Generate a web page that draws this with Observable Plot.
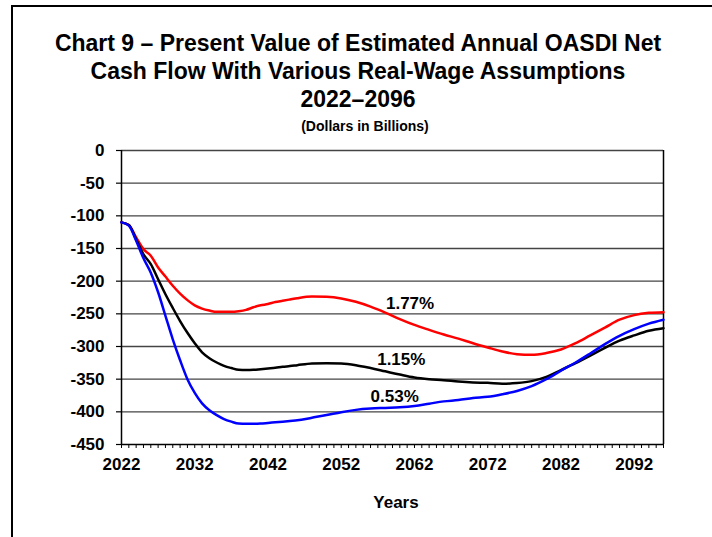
<!DOCTYPE html>
<html>
<head>
<meta charset="utf-8">
<script src="https://cdn.jsdelivr.net/npm/d3@7"></script>
<script src="https://cdn.jsdelivr.net/npm/@observablehq/plot@0.6"></script>
<style>
  html, body { margin: 0; padding: 0; background: #fff; }
  #wrap { position: relative; width: 712px; height: 537px; overflow: hidden; }
  #frame { position: absolute; left: 11px; top: 5px; width: 720px; height: 600px;
           border-left: 2px solid #000; border-top: 2px solid #000; box-sizing: border-box; }
  #chart { position: absolute; left: 0; top: 0; }
</style>
</head>
<body>
<div id="wrap"><div id="frame"></div><div id="chart"></div></div>
<script>
const titleLines = [
  "Chart 9 \u2013 Present Value of Estimated Annual OASDI Net",
  "Cash Flow With Various Real-Wage Assumptions",
  "2022\u20132096"
];
const subtitle = "(Dollars in Billions)";
const xAxisTitle = "Years";

const years = [
  2022, 2023, 2024, 2025, 2026, 2027, 2028, 2029, 2030, 2031, 2032, 2033, 2034,
  2035, 2036, 2037, 2038, 2039, 2040, 2041, 2042, 2043, 2044, 2045, 2046,
  2048, 2050, 2052, 2054, 2056, 2058, 2060, 2062, 2064, 2066, 2068, 2070,
  2072, 2074, 2076, 2078, 2080, 2082, 2084, 2086, 2088, 2090, 2092, 2094, 2096
];
const wage177 = [
  -110, -114, -133, -151, -161, -179, -193, -207, -219, -229, -237, -242, -245,
  -247, -247, -247, -246, -244, -240, -237, -235, -232, -230, -228, -226,
  -223.5, -224, -226.5, -231.6, -239, -248, -258, -267, -274.5, -281.6, -288, -295,
  -301.5, -307.7, -311.7, -312.8, -310, -304.6, -295, -283, -271, -259, -252, -248.5, -247.4
];
const wage115 = [
  -110, -114, -136, -159, -174, -197, -220, -241, -261, -279, -295, -309, -318,
  -324.5, -329.6, -333, -335.7, -336, -335.7, -334.7, -333.7, -332.7, -331, -330, -328.6,
  -326, -325.5, -326, -328.6, -333, -338, -343, -347.5, -350, -351.5, -353.6, -355,
  -355.6, -357, -356, -353, -346.4, -336, -325.5, -314, -302, -291, -283, -276, -272
];
const wage053 = [
  -110, -115, -138, -165, -187, -217, -253, -289, -321, -350, -371, -387, -397.5,
  -405, -411, -415, -418, -418.4, -418.4, -418, -417, -416, -415, -414, -413,
  -409, -405, -400.5, -397, -395, -394, -393, -391, -387.5, -384, -382, -379,
  -377, -373, -368, -360.7, -350, -337, -324.5, -310.7, -296.4, -283.7, -273.5, -265, -259
];
const seriesNames = ["1.77%", "1.15%", "0.53%"];
const seriesColors = ["#ff0000", "#000000", "#0000ff"];
const labelYears = [2061.4, 2060.2, 2059.3];
const labelValues = [-234, -319.5, -376.5];

const yTicks = [0, -50, -100, -150, -200, -250, -300, -350, -400, -450];
const gridValues = [0, -50, -100, -150, -200, -250, -300, -350, -400];
const xLabelTicks = [2022, 2032, 2042, 2052, 2062, 2072, 2082, 2092];
const xMinorTicks = d3.range(2022, 2097);

const seriesValues = [wage177, wage115, wage053];
const data = [];
seriesValues.forEach((vals, i) => {
  vals.forEach((v, j) => data.push({year: years[j], value: v, series: seriesNames[i]}));
});
const labels = seriesNames.map((s, i) => ({year: labelYears[i], value: labelValues[i], text: s}));

const font = "'Liberation Sans', Arial, sans-serif";

const chart = Plot.plot({
  width: 712,
  height: 537,
  marginTop: 150,
  marginBottom: 93,
  marginLeft: 121,
  marginRight: 49,
  style: {fontFamily: font, fontWeight: "bold", background: "transparent", color: "#000"},
  x: {domain: [2022, 2096]},
  y: {domain: [-450, 0]},
  color: {domain: seriesNames, range: seriesColors},
  marks: [
    Plot.ruleY(gridValues, {stroke: "#444", strokeWidth: 1.3}),
    Plot.axisY(yTicks, {tickSize: 5, tickPadding: 12, fontSize: 17, fontWeight: "bold",
      tickFormat: d => String(d), label: null, stroke: "#000", strokeWidth: 1.2}),
    Plot.axisX(xMinorTicks, {tickSize: 4, tickFormat: () => "", label: null, stroke: "#000", strokeWidth: 1}),
    Plot.axisX(xLabelTicks, {tickSize: 0, tickPadding: 13, fontSize: 17, fontWeight: "bold",
      tickFormat: d => String(d), label: null}),
    Plot.ruleX([2022, 2096], {stroke: "#000", strokeWidth: 1.5}),
    Plot.ruleY([-450], {stroke: "#000", strokeWidth: 1.5}),
    Plot.line(data, {x: "year", y: "value", stroke: "series", z: "series",
      curve: "monotone-x", strokeWidth: 2.5}),
    Plot.text(labels, {x: "year", y: "value", text: "text", fontSize: 17, fontWeight: "bold",
      fill: "#000", textAnchor: "middle"})
  ]
});

const svg = d3.select(chart);
const cx = 358;
const tFont = 23;
titleLines.forEach((t, i) => {
  svg.append("text").attr("x", cx).attr("y", 51 + i * 28)
    .attr("text-anchor", "middle").attr("font-family", font).attr("font-weight", "bold")
    .attr("font-size", tFont).attr("fill", "#000").text(t);
});
svg.append("text").attr("x", 365).attr("y", 131)
  .attr("text-anchor", "middle").attr("font-family", font).attr("font-weight", "bold")
  .attr("font-size", 14).attr("fill", "#000").text(subtitle);
svg.append("text").attr("x", 396).attr("y", 508)
  .attr("text-anchor", "middle").attr("font-family", font).attr("font-weight", "bold")
  .attr("font-size", 17).attr("fill", "#000").text(xAxisTitle);

document.getElementById("chart").appendChild(chart);
</script>
</body>
</html>
